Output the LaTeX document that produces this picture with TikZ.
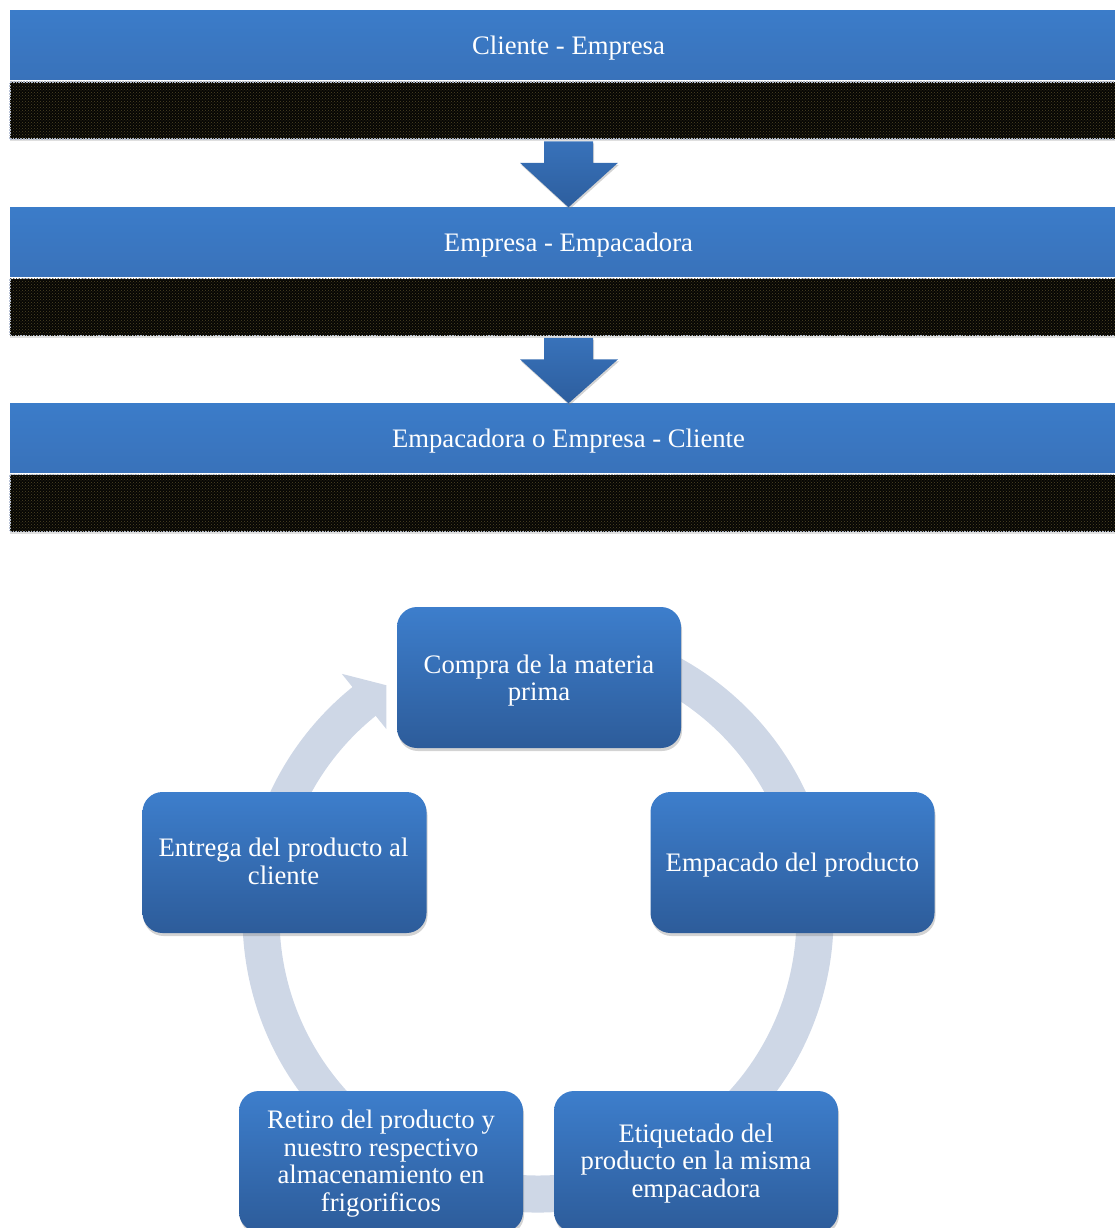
\documentclass[tikz,border=0pt]{standalone}
\usepackage{fontspec}
\setmainfont{Liberation Serif}
\usetikzlibrary{shadows,patterns,calc}

\definecolor{barTop}{RGB}{59,124,201}
\definecolor{barBot}{RGB}{57,114,186}
\definecolor{boxTop}{RGB}{61,126,204}
\definecolor{boxBot}{RGB}{45,92,154}
\definecolor{arrTop}{RGB}{56,114,186}
\definecolor{arrBot}{RGB}{45,94,158}
\definecolor{ringC}{RGB}{206,215,230}
\definecolor{dotC}{RGB}{185,195,215}
\definecolor{patC}{RGB}{80,70,38}
\definecolor{darkC}{RGB}{6,6,4}

\tikzset{
  txt/.style={text=white, font=\fontsize{26.7}{27.7}\selectfont, align=center, inner sep=0},
  bluebar/.style={top color=barTop, bottom color=barBot, draw=none,
    minimum width=1110, minimum height=69, inner sep=0},
  blackbar/.style={fill=darkC, postaction={pattern=crosshatch dots, pattern color=patC},
    draw=dotC, densely dotted, line width=1.6pt, minimum width=1110, minimum height=57, inner sep=0,
    drop shadow={opacity=0.25, shadow xshift=0pt, shadow yshift=-2pt}},
  downarrow/.style={top color=arrTop, bottom color=arrBot,
    drop shadow={opacity=0.35, shadow xshift=1pt, shadow yshift=-2pt}},
  cbox/.style={rounded corners=20, minimum width=284, minimum height=141, inner sep=0,
    top color=boxTop, bottom color=boxBot,
    drop shadow={opacity=0.35, shadow xshift=1pt, shadow yshift=-3pt}},
  ring/.style={fill=ringC}
}

\begin{document}
\begin{tikzpicture}[x=1pt,y=-1pt]
\useasboundingbox (0,0) rectangle (1115,1228);

% ---------- top flow ----------
\node[bluebar] (bar0) at (565,45.5) {};
\node[blackbar] (blk0) at (565,110.5) {};
\node[bluebar] (bar1) at (565,242) {};
\node[blackbar] (blk1) at (565,307) {};
\node[bluebar] (bar2) at (565,438) {};
\node[blackbar] (blk2) at (565,503) {};

\node[txt] (l0) at ($(bar0)+(3.5,3)$) {Cliente - Empresa};
\node[txt] (l1) at ($(bar1)+(3.5,3)$) {Empresa - Empacadora};
\node[txt] (l2) at ($(bar2)+(3.5,3)$) {Empacadora o Empresa - Cliente};

\foreach \a/\b in {blk0/bar1, blk1/bar2}{
  \path[downarrow]
    ($(\a.south)+(-21,1.5)$) -- ($(\a.south)+(28,1.5)$) --
    ($(\a.south)+(28,23)$) -- ($(\a.south)+(53,23)$) --
    ($(\b.north)+(3.5,0)$) --
    ($(\a.south)+(-45,23)$) -- ($(\a.south)+(-21,23)$) -- cycle;
}

% ---------- cycle ----------
\coordinate (ctr) at (538,917);
\fill[ring]
  ($(ctr)+(-100:295.5)$) arc[start angle=-100, end angle=231.1, radius=295.5]
  -- ($(ctr)+(231.1:312.5)$)
  -- ($(ctr)+(236.8:277)$)
  -- ($(ctr)+(231.1:241.5)$)
  -- ($(ctr)+(231.1:258.5)$)
  arc[start angle=231.1, end angle=-100, radius=258.5]
  -- cycle;

\node[cbox] (n1) at (539,677.5) {};
\node[cbox] (n2) at (792.5,862.5) {};
\node[cbox] (n3) at (696,1161.5) {};
\node[cbox] (n4) at (381,1161.5) {};
\node[cbox] (n5) at (284.5,862.5) {};

\node[txt] (t1) at ($(n1)+(0,3)$) {Compra de la materia\\prima};
\node[txt] (t2) at ($(n2)+(0,3)$) {Empacado del producto};
\node[txt] (t3) at ($(n3)+(0,2)$) {Etiquetado del\\producto en la misma\\empacadora};
\node[txt] (t4) at ($(n4)+(0,2)$) {Retiro del producto y\\nuestro respectivo\\almacenamiento en\\frigorificos};
\node[txt] (t5) at ($(n5)+(-1,-1)$) {Entrega del producto al\\cliente};
\end{tikzpicture}
\end{document}
